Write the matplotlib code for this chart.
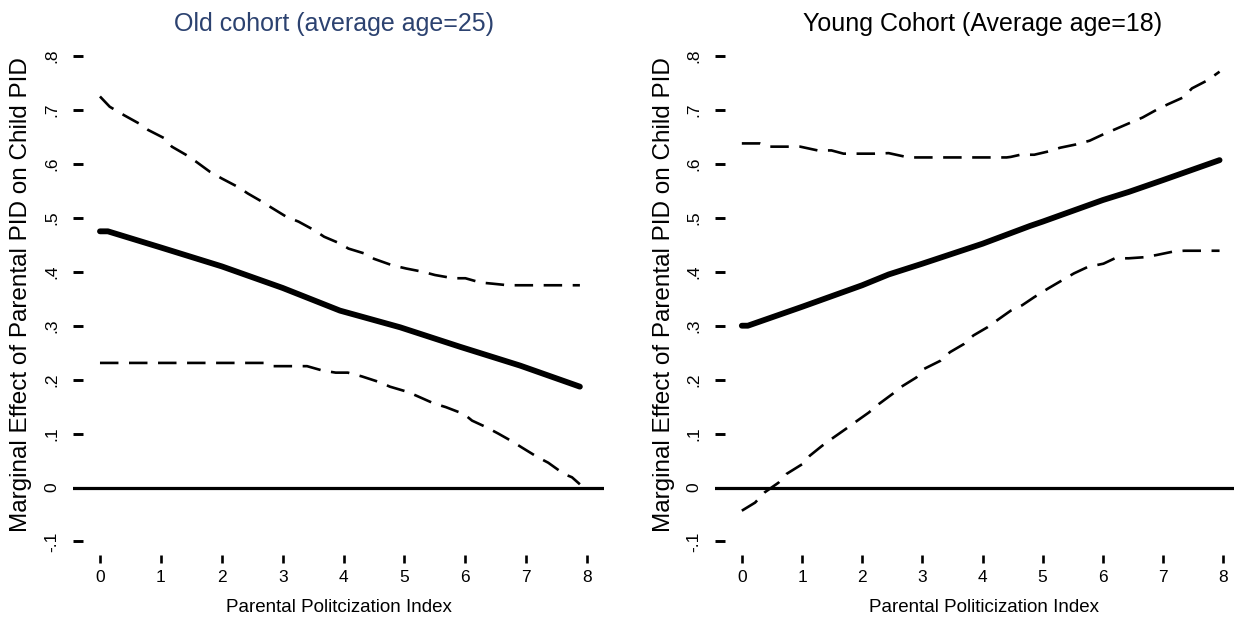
import matplotlib
matplotlib.use("Agg")
import matplotlib.pyplot as plt
from matplotlib import font_manager

# ---------------- data ----------------
# Old cohort (left panel)
old_x_me = [0.0, 0.13, 1.0, 2.0, 3.0, 3.94, 4.93, 5.91, 6.9, 7.88]
old_me = [0.475, 0.475, 0.445, 0.41, 0.37, 0.328, 0.297, 0.261, 0.226, 0.187]

old_x_hi = [0.0, 0.16, 0.4, 0.64, 0.79, 1.05, 1.18, 1.41, 1.58, 1.81, 2.0, 2.27,
            2.43, 2.66, 2.8, 3.06, 3.26, 3.52, 3.68, 3.95, 4.08, 4.34, 4.5, 4.8,
            5.03, 5.3, 5.5, 5.8, 6.0, 6.25, 6.44, 6.7, 7.88]
old_hi = [0.725, 0.706, 0.69, 0.675, 0.663, 0.648, 0.632, 0.617, 0.604, 0.585,
          0.573, 0.557, 0.545, 0.53, 0.52, 0.502, 0.493, 0.477, 0.465, 0.452,
          0.443, 0.434, 0.424, 0.412, 0.406, 0.40, 0.394, 0.388, 0.388, 0.380,
          0.378, 0.375, 0.375]

old_x_lo = [0.0, 2.69, 2.85, 3.2, 3.4, 3.65, 3.87, 4.07, 4.3, 4.6, 4.76, 5.06,
            5.22, 5.48, 5.68, 5.98, 6.11, 6.34, 6.54, 6.76, 6.93, 7.19, 7.36,
            7.62, 7.75, 7.88]
old_lo = [0.231, 0.231, 0.225, 0.225, 0.225, 0.217, 0.213, 0.213, 0.206, 0.195,
          0.187, 0.177, 0.169, 0.156, 0.149, 0.136, 0.124, 0.112, 0.100, 0.086,
          0.074, 0.056, 0.046, 0.025, 0.019, 0.006]

# Young cohort (right panel)
young_x_me = [0.0, 0.1, 1.0, 2.0, 2.44, 3.0, 4.0, 4.79, 5.0, 6.0, 6.43, 7.0, 7.94]
young_me = [0.30, 0.30, 0.335, 0.375, 0.395, 0.415, 0.452, 0.485, 0.493, 0.533,
            0.548, 0.57, 0.607]

young_x_hi = [0.0, 0.3, 0.45, 0.77, 0.97, 1.26, 1.49, 1.69, 1.92, 2.21, 2.44,
              2.77, 4.4, 4.47, 4.63, 4.86, 5.09, 5.29, 5.55, 5.78, 6.01, 6.2,
              6.47, 6.66, 6.92, 7.09, 7.35, 7.48, 7.74, 7.94]
young_hi = [0.638, 0.638, 0.632, 0.632, 0.632, 0.625, 0.625, 0.619, 0.619,
            0.619, 0.62, 0.612, 0.612, 0.613, 0.617, 0.617, 0.623, 0.63, 0.636,
            0.643, 0.655, 0.664, 0.677, 0.686, 0.702, 0.711, 0.724, 0.74,
            0.755, 0.771]

young_x_lo = [0.0, 0.22, 0.38, 0.61, 0.74, 1.0, 1.13, 1.33, 1.49, 1.72, 1.92,
              2.11, 2.28, 2.51, 2.64, 2.9, 3.03, 3.3, 3.46, 3.69, 3.85, 4.08,
              4.28, 4.47, 4.66, 4.86, 5.09, 5.32, 5.52, 5.75, 6.01, 6.2, 6.43,
              6.69, 6.89, 7.15, 7.35, 7.94]
young_lo = [-0.043, -0.028, -0.009, 0.009, 0.025, 0.043, 0.059, 0.077, 0.09,
            0.108, 0.124, 0.139, 0.155, 0.174, 0.186, 0.204, 0.22, 0.235,
            0.251, 0.266, 0.282, 0.297, 0.313, 0.328, 0.338, 0.353, 0.369,
            0.384, 0.397, 0.409, 0.415, 0.425, 0.425, 0.427, 0.431, 0.437,
            0.439, 0.439]

x_ticks = [0, 1, 2, 3, 4, 5, 6, 7, 8]
y_ticks = [-0.1, 0, 0.1, 0.2, 0.3, 0.4, 0.5, 0.6, 0.7, 0.8]
y_tick_labels = ["-.1", "0", ".1", ".2", ".3", ".4", ".5", ".6", ".7", ".8"]

titles = ["Old cohort (average age=25)", "Young Cohort (Average age=18)"]
title_colors = ["#2c4270", "black"]
xlabels = ["Parental Politcization Index", "Parental Politicization Index"]
ylabel = "Marginal Effect of Parental PID on Child PID"

# ---------------- style ----------------
available = {f.name for f in font_manager.fontManager.ttflist}
fam = "Liberation Sans" if "Liberation Sans" in available else "DejaVu Sans"
plt.rcParams["font.family"] = [fam]

W, H = 1234, 620
fig = plt.figure(figsize=(W / 100, H / 100), dpi=100)

def px_axes(left, right, top, bottom):
    return fig.add_axes([left / W, (H - bottom) / H, (right - left) / W, (bottom - top) / H])

AX_TOP, AX_BOT = 40.2, 563
AX_H = AX_BOT - AX_TOP

panels = [
    dict(ax=px_axes(73, 604, AX_TOP, AX_BOT), xlim=(-0.443, 8.276),
         me=(old_x_me, old_me), hi=(old_x_hi, old_hi), lo=(old_x_lo, old_lo),
         title_x=(334 - 73) / 531, xl_x=(339 - 73) / 531, yl_x=(21 - 73) / 531),
    dict(ax=px_axes(715, 1234, AX_TOP, AX_BOT), xlim=(-0.446, 8.18),
         me=(young_x_me, young_me), hi=(young_x_hi, young_hi), lo=(young_x_lo, young_lo),
         title_x=(983 - 715) / 519, xl_x=(984 - 715) / 519, yl_x=(664 - 715) / 519),
]

ylim = (-0.1 - 21.5 / 538.0, 0.8 + 15.8 / 538.0)

for i, p in enumerate(panels):
    ax = p["ax"]
    ax.set_xlim(*p["xlim"])
    ax.set_ylim(*ylim)
    for s in ax.spines.values():
        s.set_visible(False)
    ax.axhline(0, color="black", lw=2.3, zorder=1)
    ax.plot(*p["hi"], color="black", lw=1.9, dashes=(7, 4), solid_capstyle="butt")
    ax.plot(*p["lo"], color="black", lw=1.9, dashes=(7, 4), solid_capstyle="butt")
    ax.plot(*p["me"], color="black", lw=4.2, solid_capstyle="round", zorder=3)

    ax.set_xticks(x_ticks)
    ax.set_xticklabels([str(t) for t in x_ticks])
    ax.set_yticks(y_ticks)
    ax.set_yticklabels(y_tick_labels, rotation=90, va="center")
    ax.tick_params(axis="x", direction="in", length=6, width=1.9, pad=5, labelsize=12.5)
    ax.tick_params(axis="y", direction="in", length=7, width=2.1, pad=10, labelsize=12.5)

    ax.set_title(titles[i], color=title_colors[i], fontsize=18, x=p["title_x"],
                 y=(AX_BOT - 24) / AX_H, va="center", pad=0)
    ax.set_xlabel(xlabels[i], fontsize=13.5)
    ax.xaxis.set_label_coords(p["xl_x"], (AX_BOT - 607) / AX_H)
    ax.xaxis.label.set_va("center")
    ax.set_ylabel(ylabel, fontsize=17.5)
    ax.yaxis.set_label_coords(p["yl_x"], (AX_BOT - 295) / AX_H)
    ax.yaxis.label.set_va("center")

fig.savefig("out.png", dpi=100)
